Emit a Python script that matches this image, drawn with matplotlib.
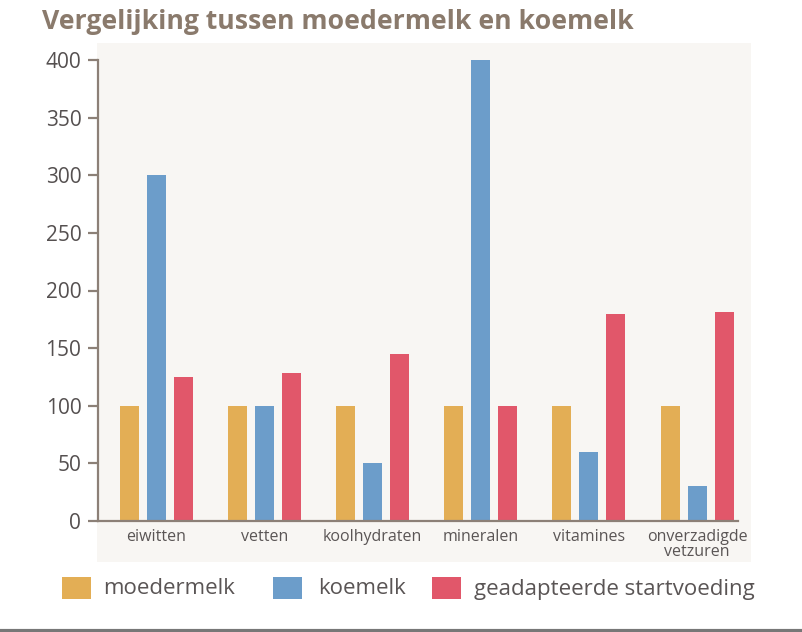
import matplotlib.pyplot as plt
from matplotlib.patches import Rectangle
from matplotlib.lines import Line2D
import numpy as np

# Data
categories = ['eiwitten', 'vetten', 'koolhydraten', 'mineralen', 'vitamines', 'onverzadigde\nvetzuren']
moedermelk = [100, 100, 100, 100, 100, 100]
koemelk = [300, 100, 50, 400, 60, 30]
startvoeding = [125, 128, 145, 100, 180, 181]
series_names = ['moedermelk', 'koemelk', 'geadapteerde startvoeding']
colors = ['#E3AE55', '#6C9DCA', '#E1576A']

W, H = 802, 632
fig = plt.figure(figsize=(W / 100, H / 100), dpi=100)
fig.patch.set_facecolor('white')

# light panel behind the plot
fig.add_artist(Rectangle((97 / W, 1 - 562 / H), (751 - 97) / W, (562 - 43) / H,
                         transform=fig.transFigure, facecolor='#F8F6F3', edgecolor='none', zorder=0))
# dark line at the bottom edge
fig.add_artist(Line2D([0, 1], [1.5 / H, 1.5 / H], transform=fig.transFigure, color='#777777', lw=3))

ax = fig.add_axes([98 / W, (H - 521) / H, (738 - 98) / W, 461 / H])
ax.set_facecolor('none')

x = np.arange(len(categories))
step = 27 / 108.2
bw = 19 / 108.2
for i, (vals, c) in enumerate(zip([moedermelk, koemelk, startvoeding], colors)):
    ax.bar(x + (i - 1) * step, vals, width=bw, color=c, zorder=2)

ax.set_xlim(-58 / 108.2, (738 - 156) / 108.2)
ax.set_ylim(0, 400)
ax.set_yticks(range(0, 401, 50))
spine_c = '#8C8077'
for s in ['top', 'right']:
    ax.spines[s].set_visible(False)
ax.spines['left'].set_color(spine_c)
ax.spines['bottom'].set_color(spine_c)
ax.spines['left'].set_linewidth(1.6)
ax.spines['bottom'].set_linewidth(1.6)
ax.tick_params(axis='y', direction='out', length=7, width=1.6, color=spine_c,
               labelsize=15, labelcolor='#555050', pad=5)
ax.set_xticks(x)
ax.set_xticklabels(categories, fontsize=11.5, color='#5A5555', linespacing=0.9)
ax.tick_params(axis='x', length=0, pad=6)
for lbl in ax.get_yticklabels() + ax.get_xticklabels():
    lbl.set_family('Open Sans')

fig.text(42 / W, 1 - 22 / H, 'Vergelijking tussen moedermelk en koemelk', fontsize=19.2,
         fontweight='bold', color='#8A7A6C', family='Open Sans', va='center', ha='left')

# legend drawn as colour squares with labels
sq_x = [62, 273, 432]
txt_x = [103, 318, 474]
for name, c, sx, tx in zip(series_names, colors, sq_x, txt_x):
    fig.add_artist(Rectangle((sx / W, 1 - 599 / H), 29 / W, 22 / H,
                             transform=fig.transFigure, facecolor=c, edgecolor='none'))
    fig.text(tx / W, 1 - 589 / H, name, fontsize=16, color='#5A5555',
             family='Open Sans', va='center', ha='left')

fig.savefig('out.png', dpi=100)
